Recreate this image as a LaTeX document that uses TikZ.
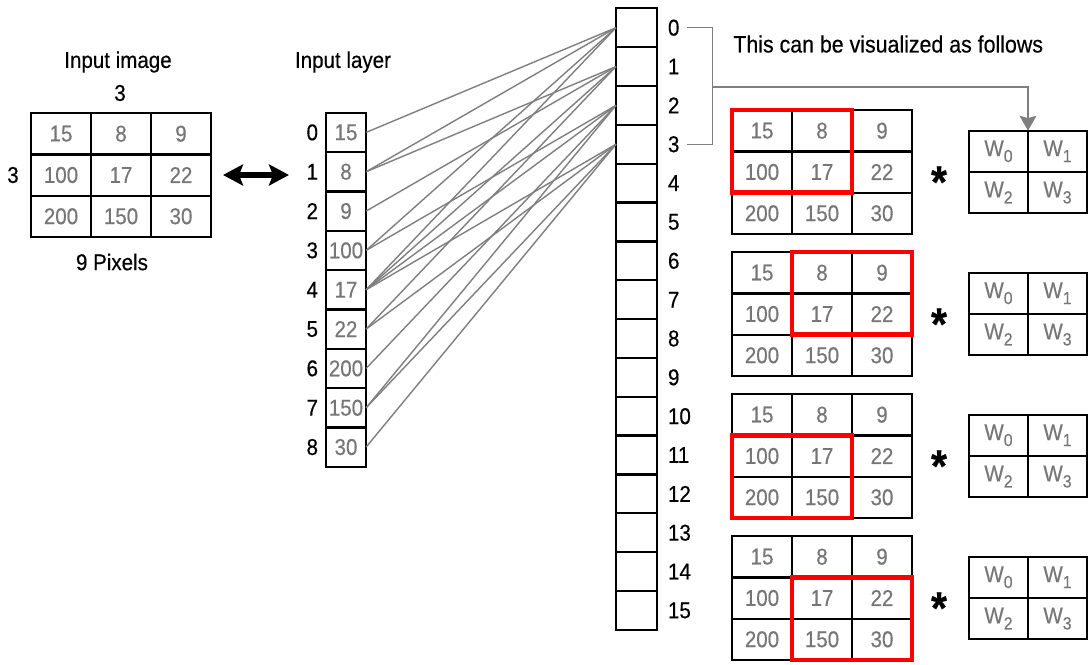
\documentclass[tikz,border=0pt]{standalone}
\usepackage{fontspec}
\setmainfont[FakeStretch=0.9,FakeBold=0.4]{Liberation Sans}
\usetikzlibrary{positioning,arrows.meta}
\definecolor{numgray}{HTML}{767676}
\definecolor{lingray}{HTML}{7F7F7F}
\definecolor{boxred}{HTML}{FF0000}
\newcommand{\wsub}[1]{W\raisebox{-0.5ex}{\fontsize{10}{10}\selectfont #1}}

\begin{document}
\begin{tikzpicture}[
    x=0.02cm, y=-0.02cm,
    lbl/.style={font=\fontsize{13}{15}\selectfont, inner sep=0pt},
    numcell/.style={draw, line width=1.3pt, minimum width=1.2cm, minimum height=0.826cm,
                    inner sep=0pt, outer sep=0pt, text=numgray, font=\fontsize{13}{15}\selectfont},
    wcell/.style={numcell, minimum width=1.18cm},
    incell/.style={numcell, minimum width=0.806cm, minimum height=0.787cm},
    hidcell/.style={numcell, minimum width=0.814cm, minimum height=0.777cm},
    conn/.style={lingray, line width=0.8pt},
    window/.style={draw=boxred, line width=2.5pt},
    times/.style={inner sep=0pt, font=\fontsize{26}{26}\selectfont\bfseries},
    swap/.style={line width=0.11cm,
                 {Stealth[length=0.4cm,width=0.42cm,inset=0.08cm]}-{Stealth[length=0.4cm,width=0.42cm,inset=0.08cm]}}
]
    \useasboundingbox (0,0) rectangle (1089,664);

    % Input image
    \node[lbl] (imgtitle) at (118,62) {Input image};
    \node[lbl] (cols) at (120,93) {3};
    \node[lbl] (rows) at (13,175) {3};
    \foreach \r/\a/\b/\c in {0/15/8/9, 1/100/17/22, 2/200/150/30} {
        \node[numcell] (img-\r-0) at (61,133.7+41.3*\r) {\a};
        \node[numcell] (img-\r-1) at (121,133.7+41.3*\r) {\b};
        \node[numcell] (img-\r-2) at (181,133.7+41.3*\r) {\c};
    }
    \node[lbl] (pix) at (112,262) {9 Pixels};

    % Same data, two views
    \coordinate (swapl) at (223,175);
    \coordinate (swapr) at (289,175);
    \draw[swap] (swapl) -- (swapr);

    % Input layer
    \node[lbl] (intitle) at (343,62) {Input layer};
    \foreach \v [count=\i from 0] in {15,8,9,100,17,22,200,150,30} {
        \node[incell] (in\i) at (346,132.4+39.33*\i) {\v};
        \node[lbl, left=0.15cm of in\i] (inl\i) {\i};
    }

    % Hidden column
    \foreach \i in {0,...,15} {
        \node[hidcell] (h\i) at (636.3,27.7+38.85*\i) {};
        \node[lbl, right=0.22cm of h\i] (hl\i) {\i};
    }

    % Connections (2x2 windows)
    \foreach \o/\ins in {0/{0,1,3,4}, 1/{1,2,4,5}, 2/{3,4,6,7}, 3/{4,5,7,8}}
        \foreach \i in \ins
            \draw[conn] (in\i.east) -- (h\o.west);

    % Visualisation
    \node[lbl, anchor=west, font=\fontsize{13.5}{15}\selectfont] (note) at (733,44) {This can be visualized as follows};
    \foreach \g/\t in {1/110, 2/252, 3/394, 4/536} {
        \foreach \r/\a/\b/\c in {0/15/8/9, 1/100/17/22, 2/200/150/30} {
            \node[numcell] (g\g-\r-0) at (762,\t+20.7+41.3*\r) {\a};
            \node[numcell] (g\g-\r-1) at (822,\t+20.7+41.3*\r) {\b};
            \node[numcell] (g\g-\r-2) at (882,\t+20.7+41.3*\r) {\c};
        }
        \node[times] (op\g) at (939,\t+72) {*};
        \node[wcell] (w\g-0-0) at (998.5,\t+41.3) {\wsub{0}};
        \node[wcell] (w\g-0-1) at (1057.5,\t+41.3) {\wsub{1}};
        \node[wcell] (w\g-1-0) at (998.5,\t+82.6) {\wsub{2}};
        \node[wcell] (w\g-1-1) at (1057.5,\t+82.6) {\wsub{3}};
    }

    % Red windows
    \draw[window] (g1-0-0.north west) rectangle (g1-1-1.south east);
    \draw[window] (g2-0-1.north west) rectangle (g2-1-2.south east);
    \draw[window] (g3-1-0.north west) rectangle (g3-2-1.south east);
    \draw[window] (g4-1-1.north west) rectangle (g4-2-2.south east);

    % Bracket to kernel
    \coordinate (brk) at (712.5,87);
    \draw[conn] ([xshift=0.15cm]hl0.east) -| (brk) |- ([xshift=0.15cm]hl3.east);
    \draw[conn, -{Stealth[length=0.3cm,width=0.34cm,inset=0.05cm]}] (brk) -| (w1-0-0.north east);
\end{tikzpicture}
\end{document}
